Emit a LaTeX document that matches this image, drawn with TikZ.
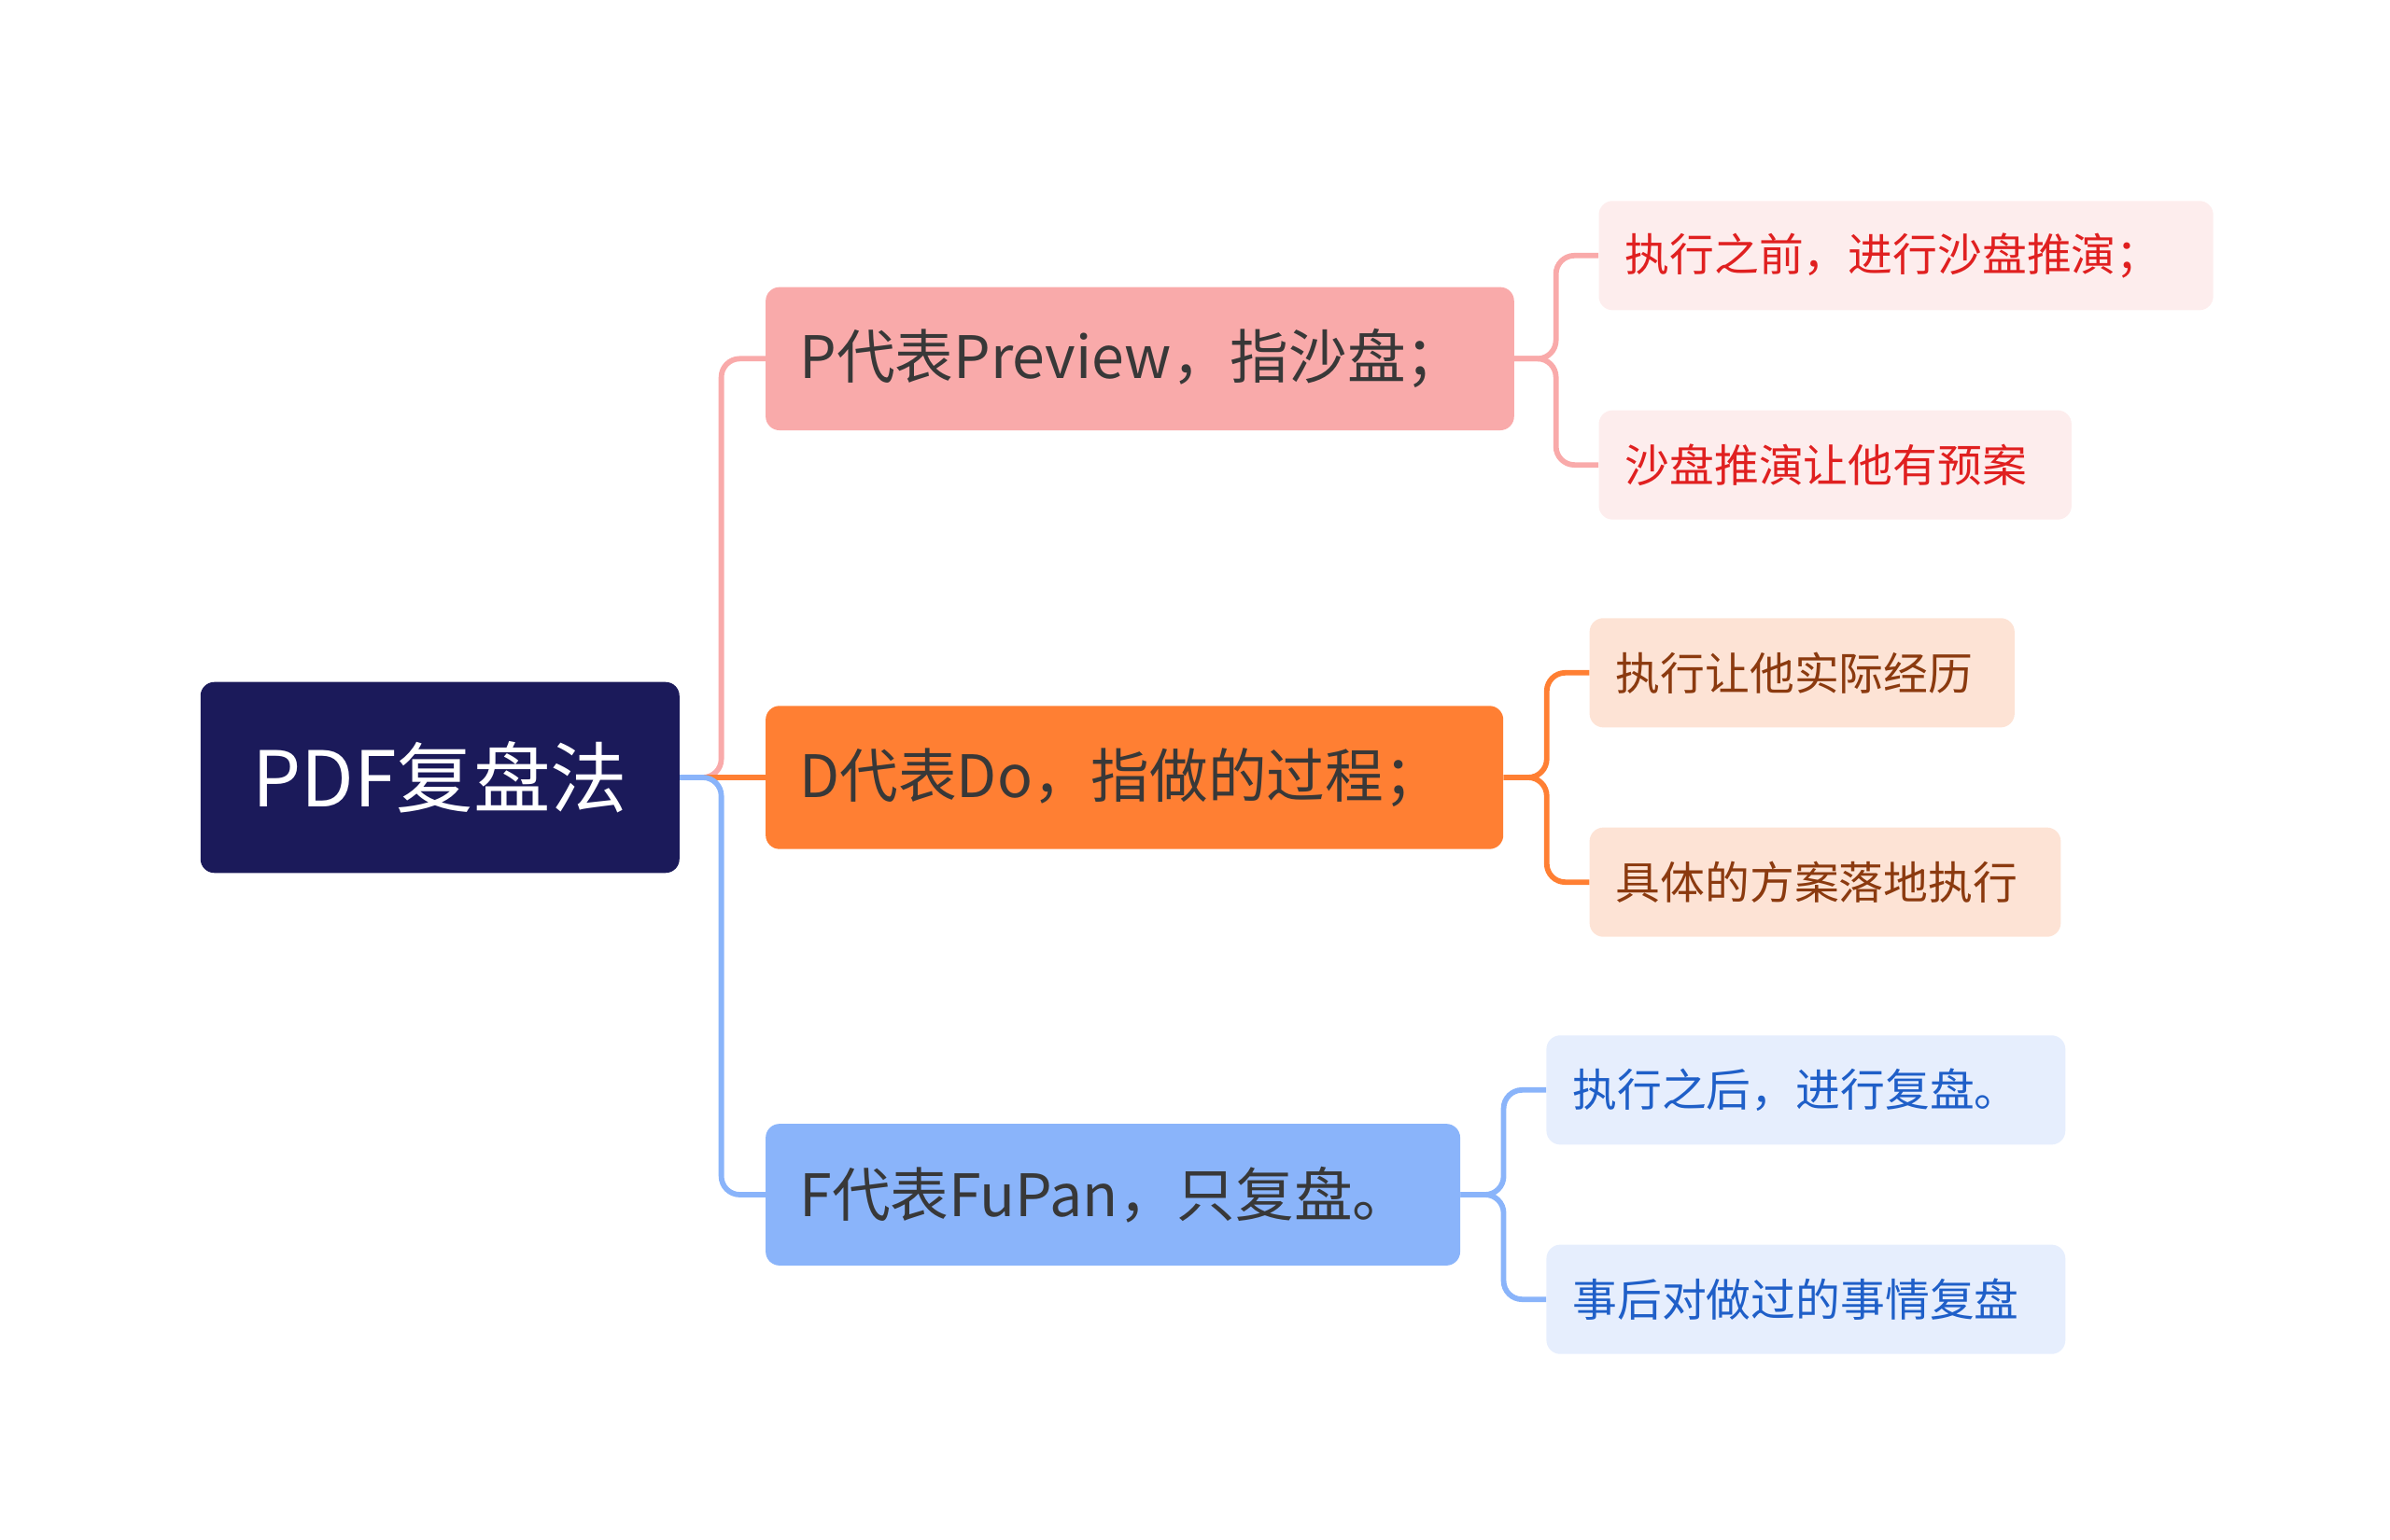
\documentclass[tikz,border=0pt]{standalone}
\usepackage{fontspec}
\setmainfont{Noto Sans CJK SC}
\begin{document}
\begin{tikzpicture}[x=1pt,y=-1pt,
  box/.style={rounded corners=9pt,anchor=west,inner xsep=0pt,inner ysep=0pt,align=left},
  lf/.style={box,font=\fontsize{29}{30}\selectfont},
  br/.style={box,font=\fontsize{38}{40}\selectfont,text=black!78},
  ln/.style={line width=3.5pt,rounded corners=12pt}]
\useasboundingbox (0,0) rectangle (1552,1000);
\definecolor{navy}{HTML}{1B1A5A}
\definecolor{pk}{HTML}{F9AAAA}
\definecolor{og}{HTML}{FF7F33}
\definecolor{bl}{HTML}{8AB4FA}
\definecolor{pkl}{HTML}{FDEDED}
\definecolor{ogl}{HTML}{FDE3D5}
\definecolor{bll}{HTML}{E6EEFD}
\node[box,fill=navy,text=white,minimum width=311pt,minimum height=124pt,align=center,font=\fontsize{50}{52}\selectfont] (root) at (130,505) {PDF复盘法};
\node[br,fill=pk,minimum width=486pt,minimum height=93pt,text width=442pt,inner xsep=22pt] (P) at (497,233) {P代表Preview，指沙盘；};
\node[br,fill=og,minimum width=479pt,minimum height=93pt,text width=435pt,inner xsep=22pt] (D) at (497,505) {D代表Do，指做的过程；};
\node[br,fill=bl,minimum width=451pt,minimum height=92pt,text width=407pt,inner xsep=22pt] (F) at (497,776) {F代表FuPan，只复盘。};
\node[lf,fill=pkl,text={rgb,255:red,224;green,32;blue,32},minimum width=399pt,minimum height=71pt,text width=365pt,inner xsep=17pt] (P1) at (1038,166) {执行之前，进行沙盘推演；};
\node[lf,fill=pkl,text={rgb,255:red,224;green,32;blue,32},minimum width=307pt,minimum height=71pt,text width=273pt,inner xsep=17pt] (P2) at (1038,302) {沙盘推演让他有预案};
\node[lf,fill=ogl,text={rgb,255:red,139;green,58;blue,15},minimum width=276pt,minimum height=71pt,text width=242pt,inner xsep=17pt] (D1) at (1032,437) {执行让他实际经历};
\node[lf,fill=ogl,text={rgb,255:red,139;green,58;blue,15},minimum width=306pt,minimum height=71pt,text width=272pt,inner xsep=17pt] (D2) at (1032,573) {具体的方案落地执行};
\node[lf,fill=bll,text={rgb,255:red,31;green,95;blue,200},minimum width=337pt,minimum height=71pt,text width=303pt,inner xsep=17pt] (F1) at (1004,708) {执行之后，进行复盘。};
\node[lf,fill=bll,text={rgb,255:red,31;green,95;blue,200},minimum width=337pt,minimum height=71pt,text width=303pt,inner xsep=17pt] (F2) at (1004,844) {事后对做过的事情复盘};
\draw[ln,pk] (root.east) -- ++(27,0) |- (P.west);
\draw[ln,og] (root.east) -- (D.west);
\draw[ln,bl] (root.east) -- ++(27,0) |- (F.west);
\draw[ln,pk] (P.east) -- ++(27,0) |- (P1.west);
\draw[ln,pk] (P.east) -- ++(27,0) |- (P2.west);
\draw[ln,og] (D.east) -- ++(28,0) |- (D1.west);
\draw[ln,og] (D.east) -- ++(28,0) |- (D2.west);
\draw[ln,bl] (F.east) -- ++(28,0) |- (F1.west);
\draw[ln,bl] (F.east) -- ++(28,0) |- (F2.west);
\end{tikzpicture}
\end{document}
